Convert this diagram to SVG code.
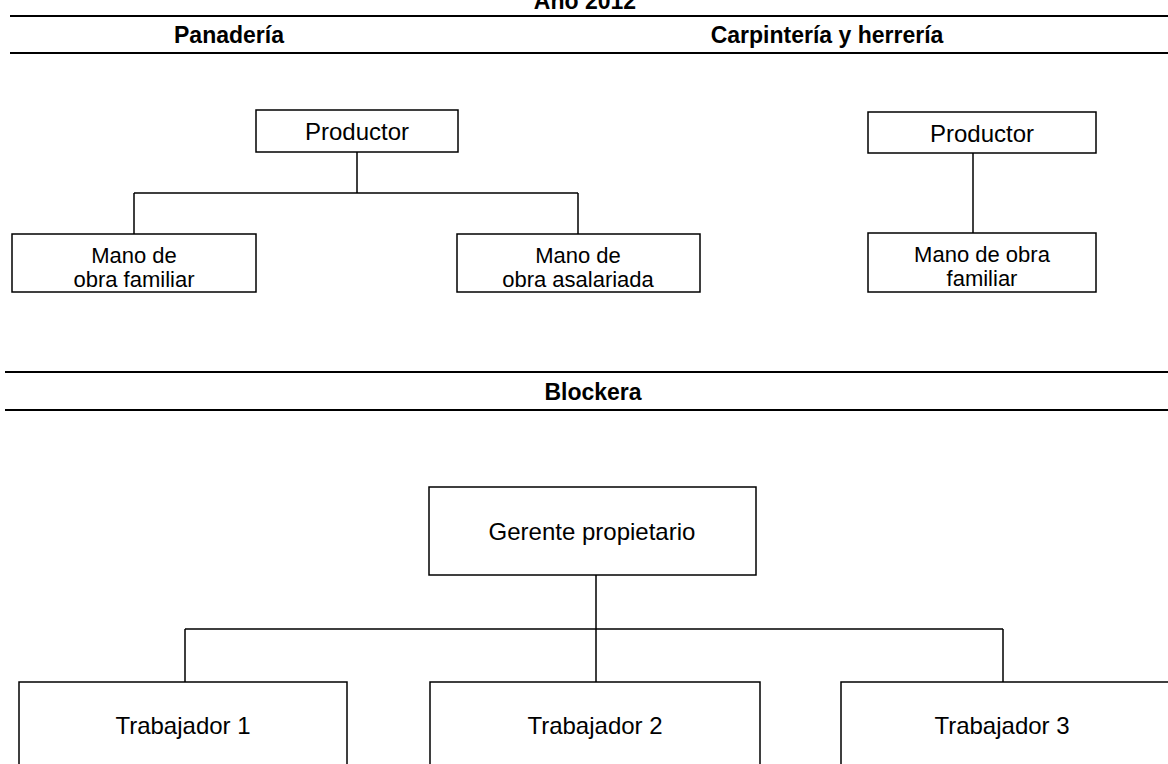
<svg xmlns="http://www.w3.org/2000/svg" width="1168" height="764" viewBox="0 0 1168 764">
<style>
.box{fill:#fff;stroke:#000;stroke-width:1.5}
.ln{stroke:#000;stroke-width:1.5;fill:none}
.rule{stroke:#000;stroke-width:2}
.t{font-family:"Liberation Sans",Arial,sans-serif;font-size:24px;fill:#000;text-anchor:middle}
.s{font-size:22px}
.h{font-family:"Liberation Sans",Arial,sans-serif;font-size:23px;font-weight:bold;fill:#000;text-anchor:middle}
</style>
<rect width="1168" height="764" fill="#fff"/>
<g id="headers">
<text class="h" x="585" y="9">Año 2012</text>
<line class="rule" x1="10" y1="16" x2="1168" y2="16"/>
<text class="h" x="229" y="43">Panadería</text>
<text class="h" x="827" y="43">Carpintería y herrería</text>
<line class="rule" x1="10" y1="53" x2="1168" y2="53"/>
<line class="rule" x1="5" y1="372" x2="1168" y2="372"/>
<text class="h" x="593" y="400">Blockera</text>
<line class="rule" x1="5" y1="410" x2="1168" y2="410"/>
</g>
<g id="connectors">
<path class="ln" d="M357 152V193M134 193H578M134 193V234M578 193V234"/>
<path class="ln" d="M973 153V233"/>
<path class="ln" d="M596 575V629M185 629H1003M185 629V682M596 629V682M1003 629V682"/>
</g>
<g id="p-productor"><rect class="box" x="256" y="110" width="202" height="42"/><text class="t" x="357" y="140">Productor</text></g>
<g id="p-familiar"><rect class="box" x="12" y="234" width="244" height="58"/><text class="t s" x="134" y="263">Mano de</text><text class="t s" x="134" y="287">obra familiar</text></g>
<g id="p-asalariada"><rect class="box" x="457" y="234" width="243" height="58"/><text class="t s" x="578" y="263">Mano de</text><text class="t s" x="578" y="287">obra asalariada</text></g>
<g id="c-productor"><rect class="box" x="868" y="112" width="228" height="41"/><text class="t" x="982" y="142">Productor</text></g>
<g id="c-familiar"><rect class="box" x="868" y="233" width="228" height="59"/><text class="t s" x="982" y="262">Mano de obra</text><text class="t s" x="982" y="286">familiar</text></g>
<g id="gerente"><rect class="box" x="429" y="487" width="327" height="88"/><text class="t" x="592" y="540">Gerente propietario</text></g>
<g id="t1"><rect class="box" x="19" y="682" width="328" height="90"/><text class="t" x="183" y="734">Trabajador 1</text></g>
<g id="t2"><rect class="box" x="430" y="682" width="330" height="90"/><text class="t" x="595" y="734">Trabajador 2</text></g>
<g id="t3"><rect class="box" x="841" y="682" width="330" height="90"/><text class="t" x="1002" y="734">Trabajador 3</text></g>
</svg>
